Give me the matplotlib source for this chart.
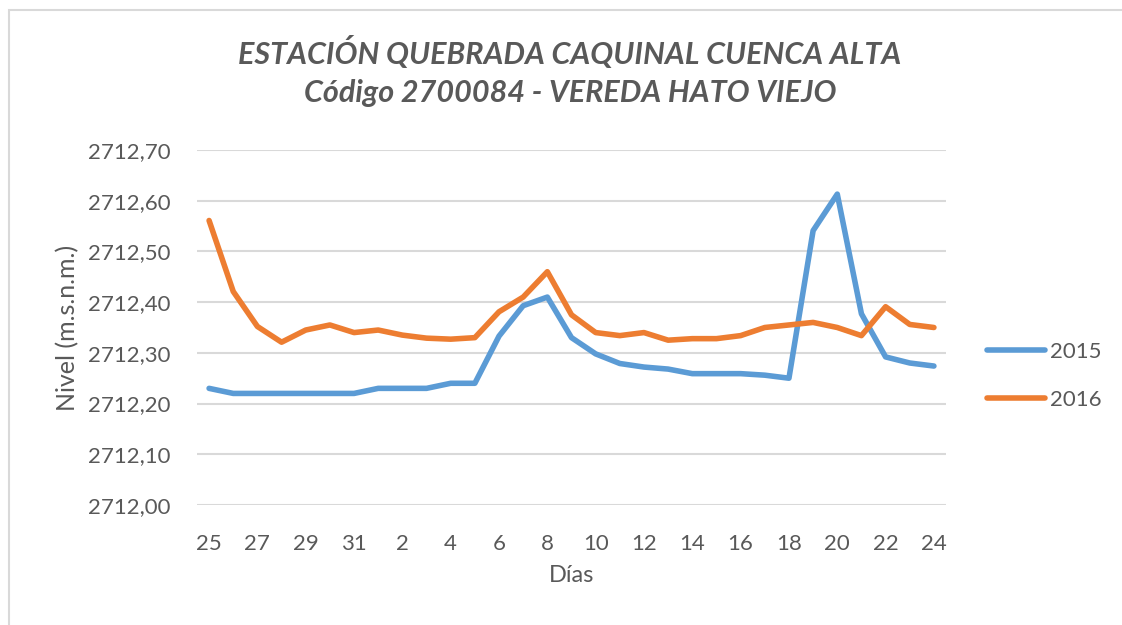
import matplotlib
matplotlib.use("Agg")
import matplotlib.pyplot as plt
from matplotlib.patches import Rectangle

plt.rcParams["font.family"] = ["Lato", "DejaVu Sans"]

# x categories: days 25-31 then 1-24
dias = ["25", "26", "27", "28", "29", "30", "31"] + [str(d) for d in range(1, 25)]

nivel_2015 = [2712.23, 2712.22, 2712.22, 2712.22, 2712.22, 2712.22, 2712.22,
              2712.23, 2712.23, 2712.23, 2712.24, 2712.24, 2712.333, 2712.393,
              2712.41, 2712.33, 2712.298, 2712.279, 2712.272, 2712.268, 2712.259,
              2712.259, 2712.259, 2712.256, 2712.25, 2712.541, 2712.613, 2712.377,
              2712.292, 2712.28, 2712.274]

nivel_2016 = [2712.561, 2712.421, 2712.352, 2712.321, 2712.345, 2712.355, 2712.34,
              2712.345, 2712.335, 2712.329, 2712.327, 2712.330, 2712.381, 2712.41,
              2712.46, 2712.375, 2712.34, 2712.334, 2712.34, 2712.325, 2712.328,
              2712.328, 2712.334, 2712.35, 2712.355, 2712.36, 2712.35, 2712.334,
              2712.391, 2712.356, 2712.35]

y_ticks = [2712.0, 2712.1, 2712.2, 2712.3, 2712.4, 2712.5, 2712.6, 2712.7]

TXT = "#595959"
BLUE = "#5B9BD5"
ORANGE = "#ED7D31"
GRID = "#D9D9D9"

fig = plt.figure(figsize=(11.22, 6.25), dpi=100)
fig.patch.set_facecolor("white")

# outer chart frame (top and left edges visible)
fig.patches.append(Rectangle((9 / 1122, -0.1), 1.2, 1 - 10 / 625 + 0.1,
                             transform=fig.transFigure, fill=False,
                             edgecolor="#D9D9D9", linewidth=1.5))

ax = fig.add_axes([197 / 1122, 1 - 505 / 625, (946 - 197) / 1122, (505 - 150) / 625])

x = list(range(len(dias)))
ax.plot(x, nivel_2015, color=BLUE, linewidth=4, solid_capstyle="round",
        solid_joinstyle="round", label="2015", zorder=3)
ax.plot(x, nivel_2016, color=ORANGE, linewidth=4, solid_capstyle="round",
        solid_joinstyle="round", label="2016", zorder=3)

ax.set_xlim(-0.5, len(dias) - 0.5)
ax.set_ylim(2712.0, 2712.7)
ax.set_yticks(y_ticks)
ax.set_yticklabels([f"{v:.2f}".replace(".", ",") for v in y_ticks])
ax.set_xticks(x[::2])
ax.set_xticklabels(dias[::2])

ax.grid(axis="y", color=GRID, linewidth=1.5)
ax.set_axisbelow(True)
for s in ax.spines.values():
    s.set_visible(False)
ax.tick_params(length=0, labelsize=16, colors=TXT)
ax.tick_params(axis="y", pad=19)
ax.tick_params(axis="x", pad=21)

ax.set_ylabel("Nivel (m.s.n.m.)", fontsize=18, color=TXT)
ax.yaxis.set_label_coords(-118 / 749, 0.5)
ax.set_xlabel("Días", fontsize=17, color=TXT)
ax.xaxis.set_label_coords(0.5, -60 / 355)

fig.text(570 / 1122, 1 - 52 / 625, "ESTACIÓN QUEBRADA CAQUINAL CUENCA ALTA",
         ha="center", va="center", fontsize=22, style="italic", fontweight="bold",
         color=TXT)
fig.text(570 / 1122, 1 - 93 / 625, "Código 2700084 - VEREDA HATO VIEJO",
         ha="center", va="center", fontsize=22, style="italic", fontweight="bold",
         color=TXT)

fig.legend(loc="center left", bbox_to_anchor=(967 / 1122, 1 - 376 / 625),
           frameon=False, fontsize=16, labelcolor=TXT, handlelength=2.6,
           handletextpad=0.25, labelspacing=1.25)

fig.savefig("out.png", dpi=100)
